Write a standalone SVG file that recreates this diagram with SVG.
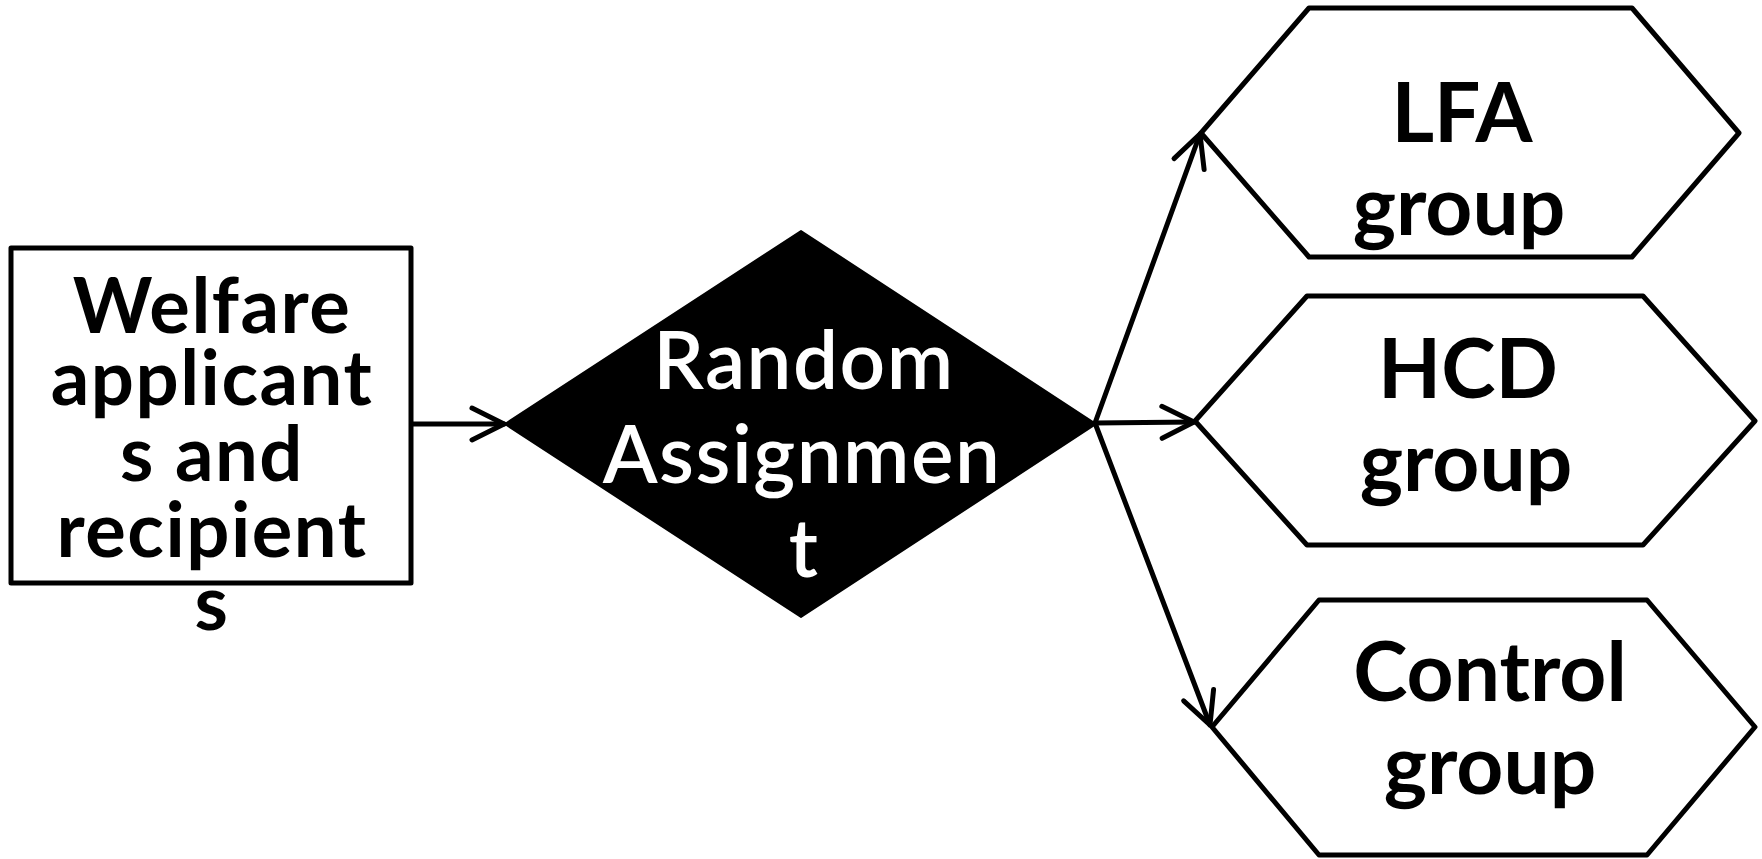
<svg xmlns="http://www.w3.org/2000/svg" width="1762" height="859" viewBox="0 0 1762 859">
<style>
.shape{fill:#fff;stroke:#000;stroke-width:5;stroke-linejoin:round}
.edge{fill:none;stroke:#000;stroke-width:5;stroke-linecap:round}
.t{font-family:Lato,"Noto Sans",sans-serif;font-weight:bold;text-anchor:middle;fill:#000}
.rt{font-size:76px;letter-spacing:1.5px}
.ht{font-size:82px}
.dt{font-family:Lato,"Noto Sans",sans-serif;font-weight:600;font-size:80px;letter-spacing:1.5px;text-anchor:middle;fill:#fff}
</style>
<defs>
<marker id="arr" markerUnits="userSpaceOnUse" viewBox="-40 -20 44 40" refX="0" refY="0" markerWidth="44" markerHeight="40" orient="auto">
<path d="M-32,-16 L0,0 L-32,16" fill="none" stroke="#000" stroke-width="5" stroke-linecap="round" stroke-linejoin="round"/>
</marker>
</defs>
<rect width="1762" height="859" fill="#fff"/>
<g id="connectors">
<line class="edge" x1="411" y1="424" x2="504" y2="424" marker-end="url(#arr)"/>
<line class="edge" x1="1095" y1="423" x2="1200" y2="134" marker-end="url(#arr)"/>
<line class="edge" x1="1095" y1="423" x2="1194" y2="422" marker-end="url(#arr)"/>
<line class="edge" x1="1095" y1="423" x2="1210" y2="725" marker-end="url(#arr)"/>
</g>
<g id="welfare">
<rect class="shape" x="11" y="248" width="400" height="335"/>
<text class="t rt"><tspan x="212" y="333">Welfare</tspan><tspan x="212" y="405">applicant</tspan><tspan x="212" y="481">s and</tspan><tspan x="212" y="557">recipient</tspan><tspan x="212" y="630">s</tspan></text>
</g>
<g id="random">
<polygon points="505,424 801,231 1096,424 801,617" fill="#000" stroke="#000" stroke-width="2" stroke-linejoin="round"/>
<text class="dt"><tspan x="804" y="389">Random</tspan><tspan x="802" y="483">Assignmen</tspan><tspan x="804" y="577">t</tspan></text>
</g>
<g id="lfa">
<polygon class="shape" points="1201,133 1309,8 1632,8 1739,133 1632,257 1309,257"/>
<text class="t ht"><tspan x="1462" y="142">LFA</tspan><tspan x="1459" y="235">group</tspan></text>
</g>
<g id="hcd">
<polygon class="shape" points="1195,421 1307,296 1643,296 1755,421 1643,545 1307,545"/>
<text class="t ht"><tspan x="1468" y="398">HCD</tspan><tspan x="1466" y="491">group</tspan></text>
</g>
<g id="control">
<polygon class="shape" points="1212,727 1319,600 1647,600 1755,727 1647,855 1319,855"/>
<text class="t ht"><tspan x="1490" y="701">Control</tspan><tspan x="1490" y="794">group</tspan></text>
</g>
</svg>
